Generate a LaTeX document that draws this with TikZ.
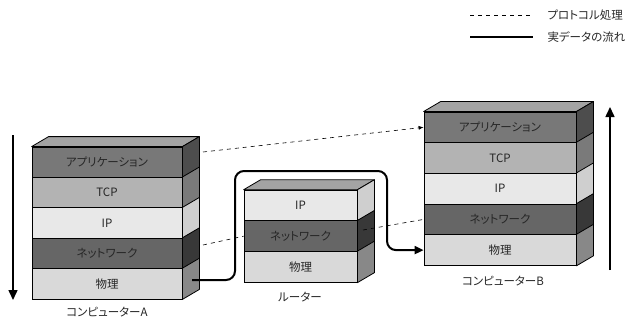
\documentclass[tikz,border=0pt]{standalone}
\usepackage{fontspec}
\setmainfont{Noto Sans CJK JP}[RawFeature=+palt]
\usetikzlibrary{arrows.meta,calc}
\definecolor{appF}{HTML}{787878}\definecolor{appS}{HTML}{4D4D4D}
\definecolor{tcpF}{HTML}{B3B3B3}\definecolor{tcpS}{HTML}{7A7A7A}
\definecolor{ipF}{HTML}{E8E8E8}\definecolor{ipS}{HTML}{CFCFCF}
\definecolor{netF}{HTML}{666666}\definecolor{netS}{HTML}{383838}
\definecolor{phyF}{HTML}{D9D9D9}\definecolor{phyS}{HTML}{888888}
\definecolor{topC}{HTML}{A3A3A3}
\definecolor{ink}{HTML}{262626}
\tikzset{
  layerbox/.style={draw=black, line width=0.8pt, inner sep=0pt, text=ink, font=\fontsize{11.5}{12}\selectfont},
  proto/.style={dashed, dash pattern=on 4pt off 4pt, line width=0.6pt},
  flow/.style={line width=2pt, -{Triangle[length=9pt,width=8pt]}},
  label/.style={text=ink, font=\fontsize{11.5}{12}\selectfont},
  legendtext/.style={anchor=west, text=ink, font=\fontsize{11.5}{12}\selectfont},
}
% side face of a layer node, depth 17 x 10
\newcommand\sidefc[2]{%
  \filldraw[fill=#2, line width=0.8pt, line join=round]
    (#1.north east) -- ++(17,-10) -- ($(#1.south east)+(17,-10)$) -- (#1.south east) -- cycle;}
\newcommand\topfc[1]{%
  \filldraw[fill=topC, line width=0.8pt, line join=round]
    (#1.north west) -- ++(17,-10) -- ($(#1.north east)+(17,-10)$) -- (#1.north east) -- cycle;}
\begin{document}
\begin{tikzpicture}[x=1pt,y=-1pt]
\useasboundingbox (0,0) rectangle (628,321);

% start points of the protocol lines
\coordinate (pa) at (203,152);
\coordinate (pn) at (203,245);
\coordinate (prn) at (363,230);

% computer A
\begin{scope}[every node/.style={layerbox, minimum width=150pt, minimum height=30.4pt}]
\node[fill=appF] (a1) at (107,162.2) {アプリケーション};
\node[fill=tcpF] (a2) at (107,192.6) {TCP};
\node[fill=ipF]  (a3) at (107,223.0) {IP};
\node[fill=netF] (a4) at (107,253.4) {ネットワーク};
\node[fill=phyF] (a5) at (107,283.8) {物理};
\end{scope}
\topfc{a1}
\sidefc{a1}{appS}\sidefc{a2}{tcpS}\sidefc{a3}{ipS}\sidefc{a4}{netS}\sidefc{a5}{phyS}
\node[label] (la) at (107,312) {コンピューターA};

% router
\begin{scope}[every node/.style={layerbox, minimum width=113pt, minimum height=30.7pt}]
\node[fill=ipF]  (r1) at (300.5,205.5) {IP};
\node[fill=netF] (r2) at (300.5,236.2) {ネットワーク};
\node[fill=phyF] (r3) at (300.5,266.9) {物理};
\end{scope}
\topfc{r1}
\sidefc{r1}{ipS}\sidefc{r2}{netS}\sidefc{r3}{phyS}
\node[label] (lr) at (300,297) {ルーター};

% computer B
\begin{scope}[every node/.style={layerbox, minimum width=152pt, minimum height=30.7pt}]
\node[fill=appF] (b1) at (500,127.3) {アプリケーション};
\node[fill=tcpF] (b2) at (500,158.0) {TCP};
\node[fill=ipF]  (b3) at (500,188.7) {IP};
\node[fill=netF] (b4) at (500,219.4) {ネットワーク};
\node[fill=phyF] (b5) at (500,250.1) {物理};
\end{scope}
\topfc{b1}
\sidefc{b1}{appS}\sidefc{b2}{tcpS}\sidefc{b3}{ipS}\sidefc{b4}{netS}\sidefc{b5}{phyS}
\node[label] (lb) at (503,281) {コンピューターB};

% protocol processing
\draw[proto, -{Latex[length=5pt,width=4pt]}] (pa) -- (b1.west);
\draw[proto] (pn) -- (r2.west);
\draw[proto] (prn) -- (b4.west);

% actual data flow
\coordinate (fs) at (192,280);
\coordinate (c1) at (235,280);
\coordinate (c2) at (235,171);
\coordinate (c3) at (387,171);
\coordinate (c4) at (387,250.1);
\draw[flow, rounded corners=9pt] (fs) -- (c1) -- (c2) -- (c3) -- (c4) -- (b5.west);

% direction arrows
\coordinate (dA1) at (13,135);
\coordinate (dA2) at (13,300);
\draw[line width=1.5pt, -{Triangle[length=10pt,width=9pt]}] (dA1) -- (dA2);
\coordinate (dB1) at (610,270);
\coordinate (dB2) at (610,107);
\draw[line width=1.5pt, -{Triangle[length=10pt,width=9pt]}] (dB1) -- (dB2);

% legend
\coordinate (g1) at (470,15);\coordinate (g2) at (533,15);
\coordinate (g3) at (470,37);\coordinate (g4) at (533,37);
\draw[proto] (g1) -- (g2);
\node[legendtext] (t1) at (544,15) {プロトコル処理};
\draw[line width=2pt] (g3) -- (g4);
\node[legendtext] (t2) at (544,37) {実データの流れ};
\end{tikzpicture}
\end{document}
